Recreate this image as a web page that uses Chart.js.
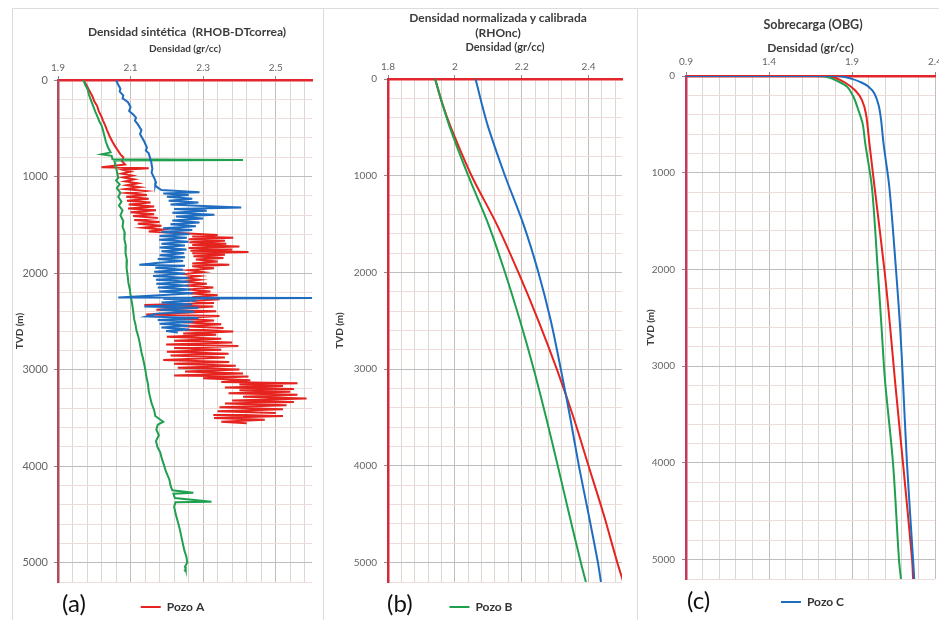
<!DOCTYPE html>
<html lang="es">
<head>
<meta charset="utf-8">
<title>Densidad vs TVD - Pozos A, B, C</title>
<script src="https://cdn.jsdelivr.net/npm/chart.js@4.4.1/dist/chart.umd.min.js"></script>
<style>
  html, body { margin: 0; padding: 0; background: #fff; overflow: hidden; }
  body { width: 939px; height: 620px; position: relative; font-family: Lato, "Open Sans", sans-serif; }
  .frame { position: absolute; border: 1px solid #dcdcdc; }
  canvas { position: absolute; top: 0; }
  .title { position: absolute; transform: translateX(-50%); font-weight: bold; color: #3c3c3c; text-align: center; white-space: nowrap; line-height: 15px; }
  .tag { position: absolute; font-size: 24px; line-height: 28px; color: #111; }
</style>
</head>
<body>
<div class="frame" style="left:12px;top:8px;width:310px;height:640px"></div>
<div class="frame" style="left:323px;top:8px;width:313px;height:640px"></div>
<div class="frame" style="left:637px;top:8px;width:330px;height:640px"></div>

<canvas id="chartA" width="331" height="640" style="left:0px"></canvas>
<canvas id="chartB" width="306" height="640" style="left:322px"></canvas>
<canvas id="chartC" width="344" height="640" style="left:636px"></canvas>

<div class="title" style="left:187px;top:24px;font-size:12px">Densidad sintética &nbsp;(RHOB-DTcorrea)</div>
<div class="title" style="left:498px;top:10px;font-size:12px">Densidad normalizada y calibrada<br>(RHOnc)</div>
<div class="title" style="left:813px;top:17px;font-size:12.5px">Sobrecarga (OBG)</div>

<div class="tag" style="left:62px;top:589px">(a)</div>
<div class="tag" style="left:387px;top:589px">(b)</div>
<div class="tag" style="left:687px;top:586px">(c)</div>

<script>
// ---- data: [densidad gr/cc, TVD m] ----

// (a) densidad sintética
const synthPozoA = [
  [1.97,0],[1.978,50],[1.985,100],[1.995,170],[2.0,220],[2.008,270],[2.012,320],[2.02,380],[2.024,420],
  [2.03,470],[2.035,520],[2.042,580],[2.05,640],[2.058,690],[2.065,730],[2.072,770],[2.08,800],[2.076,840],
  [2.085,875],[2.02,905],[2.15,915],[2.08,930],[2.1,950],[2.075,970],[2.105,990],[2.08,1010],[2.11,1030],
  [2.085,1050],[2.12,1070],[2.09,1090],[2.125,1110],[2.085,1130],[2.14,1150],[2.09,1170],[2.145,1190],
  [2.088,1210],[2.15,1230],[2.09,1250],[2.155,1270],[2.095,1290],[2.165,1310],[2.093,1330],[2.17,1350],
  [2.1,1370],[2.165,1390],[2.107,1410],[2.175,1430],[2.11,1450],[2.18,1470],[2.12,1490],[2.185,1510],
  [2.135,1530],[2.19,1550],[2.15,1570],[2.26,1590],[2.34,1605],[2.27,1620],[2.383,1635],[2.26,1650],
  [2.36,1665],[2.262,1680],[2.364,1695],[2.27,1710],[2.4,1725],[2.26,1740],[2.38,1755],[2.265,1770],
  [2.425,1782],[2.27,1795],[2.36,1810],[2.273,1825],[2.356,1845],[2.28,1860],[2.34,1880],[2.27,1900],
  [2.372,1915],[2.27,1930],[2.33,1950],[2.26,1970],[2.3,1990],[2.25,2010],[2.29,2030],[2.245,2050],
  [2.29,2070],[2.245,2090],[2.31,2110],[2.25,2130],[2.328,2150],[2.26,2170],[2.32,2190],[2.26,2210],
  [2.34,2230],[2.27,2250],[2.345,2270],[2.27,2290],[2.33,2310],[2.138,2330],[2.328,2345],[2.26,2362],
  [2.171,2380],[2.336,2395],[2.25,2412],[2.143,2430],[2.345,2445],[2.22,2470],[2.33,2490],[2.245,2510],
  [2.35,2530],[2.245,2550],[2.356,2570],[2.25,2590],[2.383,2605],[2.245,2625],[2.336,2640],[2.2,2660],
  [2.35,2680],[2.22,2700],[2.38,2720],[2.198,2740],[2.397,2755],[2.22,2775],[2.35,2795],[2.2,2815],
  [2.37,2835],[2.21,2855],[2.36,2875],[2.19,2900],[2.372,2920],[2.22,2940],[2.39,2960],[2.23,2980],
  [2.4,3000],[2.25,3020],[2.41,3040],[2.22,3060],[2.425,3072],[2.3,3090],[2.43,3110],[2.35,3128],
  [2.56,3142],[2.4,3155],[2.52,3170],[2.36,3185],[2.55,3200],[2.4,3215],[2.54,3230],[2.37,3245],
  [2.56,3260],[2.41,3280],[2.585,3300],[2.38,3320],[2.55,3335],[2.36,3350],[2.53,3370],[2.345,3390],
  [2.52,3410],[2.34,3430],[2.5,3450],[2.328,3470],[2.52,3480],[2.33,3500],[2.47,3520],[2.35,3540],[2.42,3555]
];
const synthPozoB = [
  [1.97,0],[1.975,50],[1.982,100],[1.985,150],[1.99,200],[1.996,260],[2.003,330],[2.01,390],[2.014,430],
  [2.02,470],[2.024,520],[2.028,580],[2.032,640],[2.038,700],[2.045,750],[2.02,770],[2.048,785],[2.05,820],
  [2.41,828],[2.055,835],[2.058,880],[2.062,940],[2.066,1015],[2.06,1040],[2.07,1080],[2.062,1120],
  [2.072,1170],[2.066,1210],[2.075,1260],[2.068,1300],[2.078,1350],[2.072,1400],[2.08,1460],[2.078,1520],
  [2.084,1580],[2.083,1650],[2.087,1720],[2.086,1790],[2.09,1870],[2.089,1950],[2.092,2030],[2.094,2100],
  [2.098,2170],[2.1,2230],[2.103,2290],[2.106,2360],[2.108,2420],[2.11,2480],[2.114,2540],[2.116,2590],
  [2.12,2640],[2.124,2700],[2.127,2760],[2.13,2820],[2.134,2880],[2.138,2950],[2.141,3010],[2.144,3080],
  [2.148,3150],[2.15,3220],[2.154,3290],[2.158,3350],[2.165,3420],[2.168,3480],[2.19,3540],[2.175,3570],
  [2.171,3620],[2.178,3680],[2.17,3740],[2.174,3800],[2.182,3860],[2.186,3920],[2.193,4000],[2.198,4060],
  [2.207,4140],[2.21,4200],[2.215,4250],[2.273,4275],[2.218,4285],[2.222,4330],[2.323,4368],[2.224,4375],
  [2.22,4420],[2.226,4520],[2.232,4600],[2.236,4660],[2.24,4730],[2.244,4800],[2.248,4870],[2.254,4940],
  [2.256,5000],[2.25,5040],[2.252,5070],[2.248,5090]
];
const synthPozoC = [
  [2.06,0],[2.066,50],[2.072,90],[2.07,120],[2.08,160],[2.078,190],[2.093,230],[2.1,280],[2.096,320],
  [2.108,360],[2.115,390],[2.112,420],[2.12,460],[2.13,520],[2.126,560],[2.138,640],[2.145,700],[2.142,730],
  [2.15,760],[2.157,850],[2.16,920],[2.158,960],[2.165,1015],[2.17,1060],[2.168,1090],[2.175,1115],
  [2.185,1140],[2.29,1162],[2.19,1175],[2.26,1190],[2.2,1210],[2.27,1230],[2.205,1250],[2.287,1270],
  [2.21,1290],[2.3,1305],[2.405,1322],[2.22,1335],[2.31,1355],[2.215,1375],[2.331,1395],[2.225,1415],
  [2.3,1435],[2.215,1455],[2.29,1475],[2.21,1495],[2.28,1515],[2.19,1535],[2.27,1555],[2.185,1575],
  [2.262,1595],[2.18,1615],[2.255,1635],[2.179,1655],[2.26,1675],[2.185,1695],[2.25,1715],[2.18,1735],
  [2.254,1755],[2.185,1775],[2.248,1795],[2.18,1815],[2.25,1835],[2.175,1855],[2.245,1875],[2.17,1895],
  [2.124,1915],[2.25,1925],[2.168,1945],[2.245,1965],[2.165,1985],[2.25,2005],[2.162,2030],[2.26,2050],
  [2.17,2070],[2.262,2090],[2.171,2110],[2.26,2130],[2.175,2150],[2.265,2170],[2.179,2190],[2.272,2210],
  [2.18,2230],[2.066,2254],[2.62,2258],[2.19,2266],[2.281,2285],[2.185,2305],[2.27,2325],[2.138,2345],
  [2.287,2360],[2.18,2380],[2.275,2400],[2.171,2420],[2.143,2450],[2.287,2465],[2.175,2485],[2.273,2505],
  [2.18,2525],[2.262,2545],[2.185,2565],[2.262,2585],[2.198,2600],[2.23,2615]
];

// (b) densidad normalizada y calibrada
const normPozoA = [[1.941,0],[1.962,250],[1.988,500],[2.05,1000],[2.125,1500],[2.19,2000],[2.25,2500],[2.305,3000],[2.355,3500],[2.40,4000],[2.445,4500],[2.486,5000],[2.504,5200]];
const normPozoB = [[1.941,0],[1.962,250],[1.985,500],[2.04,1000],[2.1,1500],[2.15,2000],[2.195,2500],[2.236,3000],[2.273,3500],[2.308,4000],[2.342,4500],[2.377,5000],[2.392,5200]];
const normPozoC = [[2.062,0],[2.08,250],[2.1,500],[2.15,1000],[2.205,1500],[2.25,2000],[2.287,2500],[2.317,3000],[2.345,3500],[2.371,4000],[2.40,4500],[2.428,5000],[2.437,5200]];

// (c) sobrecarga
const obgPozoA = [[0.9,0],[1.74,0],[1.8,20],[1.86,70],[1.92,150],[1.96,250],[1.985,400],[2.005,700],[2.036,1150],[2.095,2000],[2.13,2600],[2.159,3150],[2.207,4000],[2.262,5000],[2.268,5200]];
const obgPozoB = [[0.9,0],[1.68,0],[1.75,10],[1.81,50],[1.87,110],[1.91,220],[1.94,360],[1.965,500],[1.98,700],[2.02,1150],[2.055,2000],[2.078,2600],[2.099,3150],[2.147,4000],[2.183,5000],[2.195,5200]];
const obgPozoC = [[0.9,0],[1.82,0],[1.9,30],[1.96,70],[2.0,110],[2.035,180],[2.06,300],[2.075,450],[2.09,700],[2.125,1150],[2.165,2000],[2.19,2600],[2.207,3150],[2.231,4000],[2.268,5000],[2.275,5200]];

// ---- axes ----
const wells = ['Pozo A', 'Pozo B', 'Pozo C'];
const ticksXA = [1.9, 2.1, 2.3, 2.5];
const ticksXB = [1.8, 2.0, 2.2, 2.4];
const ticksXC = [0.9, 1.4, 1.9, 2.4];
const ticksY = [0, 1000, 2000, 3000, 4000, 5000];

const COLORS = { 'Pozo A': '#e5231f', 'Pozo B': '#20a04f', 'Pozo C': '#1f6dc0' };
const NONE = 'rgba(0,0,0,0)';

Chart.defaults.font.family = 'Lato, "Open Sans", sans-serif';

function isOn(list, v) {
  return list.some(m => Math.abs(m - v) < 1e-6);
}

function createPanel(canvasId, o) {
  const ctx = document.getElementById(canvasId);

  // minor grid positions between xMin and xMax
  const xGrid = [];
  for (let i = 0; o.xMin + i * o.xMinor <= o.xMax + 1e-9; i++) {
    xGrid.push(Math.round((o.xMin + i * o.xMinor) * 1000) / 1000);
  }

  const datasets = o.series.map((data, i) => ({
    label: wells[i],
    data: data,
    xAxisID: 'x',
    yAxisID: 'y',
    showLine: true,
    borderColor: COLORS[wells[i]],
    backgroundColor: COLORS[wells[i]],
    borderWidth: o.lineWidth,
    pointRadius: 0,
    tension: o.tension,
    order: 3 - i
  }));

  return new Chart(ctx, {
    type: 'scatter',
    data: { datasets: datasets },
    options: {
      responsive: false,
      animation: false,
      events: [],
      layout: { padding: o.pad, autoPadding: false },
      plugins: {
        tooltip: { enabled: false },
        legend: {
          position: 'bottom',
          labels: {
            filter: item => item.text === o.legendName,
            usePointStyle: true,
            pointStyle: 'line',
            pointStyleWidth: 20,
            padding: o.legendPad,
            color: '#333',
            font: { size: 12, weight: 'bold' }
          }
        }
      },
      scales: {
        x: {
          type: 'linear',
          position: 'top',
          min: o.xMin,
          max: o.xMax,
          afterBuildTicks: s => { s.ticks = xGrid.map(v => ({ value: v })); },
          afterFit: s => { s.height = o.xAxisH; },
          ticks: {
            autoSkip: false,
            maxRotation: 0,
            padding: o.xTickPad,
            color: '#666',
            font: { size: 10 },
            callback: v => isOn(o.xLabels, v) ? String(v) : ''
          },
          grid: {
            color: c => c.tick.value === o.xMin ? NONE : (isOn(o.xLabels, c.tick.value) ? '#c4beb9' : '#ddd6d1'),
            tickColor: c => isOn(o.xLabels, c.tick.value) ? '#8a8a8a' : NONE,
            tickLength: 4
          },
          border: { color: '#e3262b', width: 2.5 },
          title: {
            display: true,
            text: 'Densidad (gr/cc)',
            color: '#3c3c3c',
            font: { size: o.xTitleSize, weight: 'bold' },
            padding: { top: o.xTitlePad, bottom: 0 }
          }
        },
        y: {
          type: 'linear',
          position: 'left',
          reverse: true,
          min: 0,
          max: 5200,
          afterFit: s => { s.width = o.yAxisW; },
          ticks: {
            stepSize: 200,
            autoSkip: false,
            padding: o.yTickPad,
            color: '#666',
            font: { size: o.yTickSize },
            callback: v => ticksY.includes(v) ? String(v) : ''
          },
          grid: {
            color: c => c.tick.value === 0 ? NONE : (ticksY.includes(c.tick.value) ? '#bdbdbd' : '#eedcda'),
            tickColor: c => ticksY.includes(c.tick.value) ? '#8a8a8a' : NONE,
            tickLength: 4
          },
          border: { color: o.yBorder, width: 2.5 },
          title: {
            display: true,
            text: 'TVD (m)',
            color: '#3c3c3c',
            font: { size: 10, weight: 'bold' },
            padding: 0
          }
        },
        // empty right box, only to leave room so the legend sits where it does in the figure
        yR: {
          position: 'right',
          afterFit: s => { s.width = o.rightW; },
          grid: { display: false },
          border: { display: false },
          ticks: { display: false }
        }
      }
    }
  });
}

createPanel('chartA', {
  series: [synthPozoA, synthPozoB, synthPozoC],
  legendName: 'Pozo A',
  xMin: 1.9, xMax: 2.6, xMinor: 0.04, xLabels: ticksXA,
  pad: { left: 14, top: 38, right: 0, bottom: 17 },
  xAxisH: 42, xTickPad: 2, xTitleSize: 10, xTitlePad: 5,
  yAxisW: 44, yTickPad: 6, yTickSize: 11, yBorder: '#b04a5c',
  rightW: 19, legendPad: 19,
  lineWidth: 2, tension: 0
});

createPanel('chartB', {
  series: [normPozoA, normPozoB, normPozoC],
  legendName: 'Pozo B',
  xMin: 1.8, xMax: 2.5, xMinor: 0.04, xLabels: ticksXB,
  pad: { left: 12, top: 36, right: 0, bottom: 17 },
  xAxisH: 43, xTickPad: 2, xTitleSize: 11, xTitlePad: 5,
  yAxisW: 54, yTickPad: 7, yTickSize: 10, yBorder: '#d42a3c',
  rightW: 6, legendPad: 19,
  lineWidth: 2, tension: 0.3
});

createPanel('chartC', {
  series: [obgPozoA, obgPozoB, obgPozoC],
  legendName: 'Pozo C',
  xMin: 0.9, xMax: 2.4, xMinor: 0.1, xLabels: ticksXC,
  pad: { left: 9, top: 35, right: 0, bottom: 22 },
  xAxisH: 41, xTickPad: 4, xTitleSize: 12, xTitlePad: 6,
  yAxisW: 41, yTickPad: 7, yTickSize: 10, yBorder: '#c8385a',
  rightW: 45, legendPad: 17,
  lineWidth: 2, tension: 0.3
});
</script>
</body>
</html>
